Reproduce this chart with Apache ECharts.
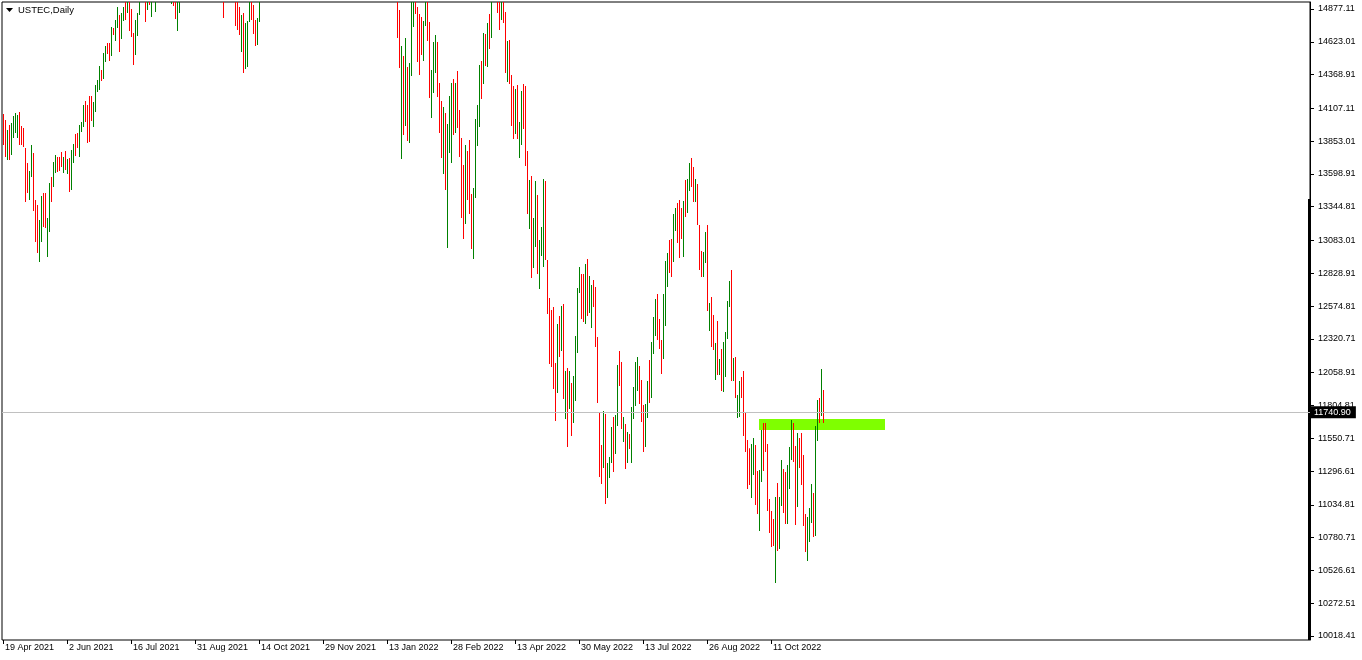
<!DOCTYPE html>
<html><head><meta charset="utf-8">
<script src="https://cdn.jsdelivr.net/npm/echarts@6/dist/echarts.min.js"></script>
<style>html,body{margin:0;padding:0;background:#fff;}#c{width:1362px;height:660px;}</style>
</head><body><div id="c"></div>
<script>
const symbolTitle = 'USTEC,Daily';
const xTickLabels = ['19 Apr 2021','2 Jun 2021','16 Jul 2021','31 Aug 2021','14 Oct 2021','29 Nov 2021','13 Jan 2022','28 Feb 2022','13 Apr 2022','30 May 2022','13 Jul 2022','26 Aug 2022','11 Oct 2022'];
const xTickBars = [0,32,64,96,128,160,192,224,256,288,320,352,384];
const yTickLabels = [14877.11,14623.01,14368.91,14107.11,13853.01,13598.91,13344.81,13083.01,12828.91,12574.81,12320.71,12058.91,11804.81,11550.71,11296.61,11034.81,10780.71,10526.61,10272.51,10018.41];
const highs = [
14038,13992,13915,13953,13969,14022,14046,14030,14053,13945,
13930,13776,13661,13599,13799,13738,13376,13337,13222,13406,
13430,13430,13237,13507,13553,13668,13722,13707,13707,13745,
13707,13753,13691,13699,13761,13807,13884,13892,13953,13976,
14107,14138,14107,14176,14176,14130,14261,14300,14407,14377,
14508,14561,14585,14585,14708,14700,14762,14862,14800,14816,
14862,14950,14960,14940,14846,14662,14762,14816,14960,15020,
15060,15010,14990,15000,15010,15060,15050,15080,15100,15120,
15150,15130,15160,15170,15050,15020,14990,14960,14990,15030,
15180,15280,15350,15380,15420,15480,15520,15550,15520,15560,
15600,15640,15700,15660,15620,15560,15520,15480,15440,15400,
15220,15150,15260,15280,15230,15120,15020,14990,14862,14800,
14816,14739,14754,14980,15000,14877,14762,14777,15000,15120,
15200,15300,15360,15400,15420,15360,15480,15520,15640,15700,
15800,15900,16000,16150,16200,16250,16280,16150,16100,16200,
16300,16350,16400,16550,16770,16700,16400,16450,16500,16350,
16450,16600,16350,16200,16000,16250,16400,16300,16350,16400,
16400,16100,16250,16150,15950,15900,16000,16150,16300,16350,
16450,16550,16450,16400,16500,16550,16300,16000,15900,15800,
15650,15750,15800,15550,15600,15450,15200,15250,14839,14561,
14484,14623,14400,14431,14950,15000,15020,14862,14808,14785,
14754,14960,14950,14746,14377,14592,14646,14592,14277,14138,
14092,14046,13961,14176,14277,14307,14277,14369,14069,13853,
13645,13799,13753,13838,13422,13468,13999,14107,14415,14446,
14662,14654,14739,14808,14950,15100,15250,15000,14980,14960,
14940,14823,14600,14608,14338,14253,14230,14261,13976,14215,
14269,14253,13753,13530,13560,13237,13522,13414,13068,13168,
13537,13522,12914,12621,12529,12552,12121,12421,12482,12559,
12575,12059,12082,12059,11967,12020,12328,12698,12860,12806,
12806,12883,12921,12790,12721,12760,12706,12321,11736,11489,
11751,11728,11351,11397,11628,11705,11720,12105,12213,12128,
11705,11651,11589,11574,11782,11936,12128,12167,12097,11990,
11797,11805,11982,12144,12282,12475,12613,12652,12459,12298,
12652,12906,12968,13068,13075,13268,13314,13353,13376,13314,
13368,13530,13537,13661,13699,13630,13537,13499,13183,12983,
12975,13129,13183,12583,12629,12490,12275,12444,12151,12228,
12282,12359,12598,12752,12837,12159,12167,11874,11982,12013,
12059,11736,11528,11465,11497,11543,11489,11289,11297,11605,
11659,11659,11497,11073,10981,10919,11089,11197,11089,11374,
11304,11281,11335,11474,11682,11659,11481,11582,11543,11582,
11412,10958,10935,11004,11189,11120,11635,11836,11851,12074,11913];
const lows = [
13799,13707,13684,13684,13722,13853,13892,13853,13799,13799,
13784,13360,13430,13376,13553,13291,13052,12968,12898,13052,
13168,13160,12937,13129,13360,13476,13584,13591,13599,13630,
13584,13607,13576,13437,13453,13661,13714,13776,13707,13899,
13938,13976,13815,13822,13984,13938,14053,14207,14223,14292,
14307,14438,14500,14446,14484,14646,14600,14700,14515,14615,
14754,14762,14816,14677,14631,14415,14492,14638,14800,14920,
14950,14746,14839,14877,14785,14930,14823,14960,14980,15000,
15010,15020,15040,15050,14885,14869,14769,14677,14816,14920,
15040,15120,15230,15300,15320,15360,15420,15440,15450,15460,
15480,15520,15580,15540,15500,15400,15380,15300,15220,15100,
14777,14950,15000,15080,15010,14930,14715,14685,14646,14515,
14354,14384,14400,14746,14762,14654,14561,14569,14746,14960,
15030,15150,15220,15280,15250,15200,15340,15420,15470,15560,
15650,15700,15830,15950,16050,16100,16050,15950,15950,16020,
16150,16200,16250,16350,16400,16250,16150,16200,16300,15900,
16050,15900,15700,15600,15450,15900,16200,15950,16050,16150,
15950,15750,15800,15850,15550,15650,15700,15950,16100,16200,
16250,16350,16250,16300,16200,16050,15750,15600,15550,15500,
15250,15500,15350,15250,15450,15050,14950,14623,14392,13691,
13876,13945,13830,13815,14330,14708,14808,14438,14338,14492,
14446,14715,14600,14161,14007,14200,14354,14169,13892,13699,
13576,13453,13006,13738,13661,13876,13892,13930,13707,13237,
13075,13191,13376,13268,12998,12921,13391,13791,13938,14153,
14269,14407,14400,14538,14623,14920,14950,14816,14685,14762,
14739,14354,14284,14269,13945,13845,13884,13845,13699,13799,
13922,13637,13268,13152,12775,12852,13014,12806,12690,12944,
12860,12914,12498,12113,12090,11920,11674,11890,12167,12213,
11843,11689,11474,11766,11558,11659,11828,12198,12660,12459,
12436,12421,12482,12506,12390,12552,12244,11813,11243,11189,
11312,11035,11081,11235,11351,11281,11420,11635,11943,11612,
11512,11304,11351,11458,11351,11689,11789,11905,11805,11666,
11435,11474,11697,11813,11851,12190,12328,12298,12228,12036,
12151,12405,12706,12814,12783,12898,13137,13045,12929,13075,
12937,13245,13276,13445,13476,13360,13360,13183,12837,12783,
12783,12891,12521,12367,12244,12221,11990,12028,12028,11905,
11897,12013,12305,12552,11982,11982,11851,11697,11705,11851,
11558,11435,11150,11181,11081,11258,11027,10958,10827,11204,
11289,11435,10981,10812,10704,10711,10427,10673,10688,11019,
10966,10881,10881,11150,11374,11358,10873,11012,11312,11181,
10865,10665,10596,10742,10889,10781,10788,11520,11659,11712,11659];
const directions = [
'RRGRGGGGRR','RRRGGRRRGG','RRGGRGGRRR','GRGRGGRRGG','GRRRRGGGGR',
'GGRRGRGGRG','GRGRRRGGGG','GRGRGGGGRG','GRGRGRRGGG','GGGGGGGGRG',
'GGGRRRGRRR','RGGRRRRRRG','RGGGRRRGGG','GGGGRRGGGG','GGGGGRRRGG',
'GGGGRRRGRR','GRRRRGGRGG','RRGRRRGGGG','GGRRGRRRRR','GGRGRRRRRG',
'RGRGGGRRRR','GGRRGGGRRR','GRGGGRGRRR','RGRRRGGGGR','GRGRGGRRRG',
'RRGRRRGRGG','RRRGRGGRGG','GRRRRRRGRG','RGRGRGGGGR','RGRGGRRRRR',
'GRGGGRGGRR','GRGRGGGGRR','RGGRGGGRRR','GGGRRGGRRR','GRGGRRGRRR',
'GGRGRRGRGR','GGGGRGRGGR','RRRRGGRRGG','RRRRRRGRGG','RRGGGRRGRR',
'RRGGGRGGRGR'].join('');
const lastPrice = 11740.90;
const zoneBars = [378, 441];
const zonePrices = [11605, 11689];
const totalSlots = 654;
const yRange = [9987.6, 14900.2];       // price scale used by the bars
const yLabelRange = [9987.4, 14931.4];  // scale of the terminal's evenly spaced price labels

const bars = highs.map((h, i) => [i, h, lows[i], directions[i] === 'G' ? 1 : 0]);
const chart = echarts.init(document.getElementById('c'), null, {renderer: 'canvas'});
const FONT = 'Liberation Sans';
chart.setOption({
  animation: false,
  backgroundColor: '#fff',
  title: {text: symbolTitle, left: 13, top: 0, textStyle: {fontFamily: FONT, fontSize: 9.5, fontWeight: 'normal', color: '#000'}},
  grid: {left: 2, top: 2, width: 1308, height: 638, show: true, borderColor: '#000', borderWidth: 1, backgroundColor: 'transparent'},
  xAxis: {
    type: 'value', min: -0.5, max: totalSlots - 0.5,
    splitLine: {show: false},
    axisLine: {show: false, onZero: false},
    axisTick: {show: true, customValues: xTickBars, length: 4, lineStyle: {color: '#000'}},
    axisLabel: {customValues: xTickBars, align: 'left', margin: 3, padding: [0,0,0,2],
      formatter: v => xTickLabels[xTickBars.indexOf(Math.round(v))] || '',
      fontFamily: FONT, fontSize: 9, color: '#000'}
  },
  yAxis: [{
    type: 'value', position: 'right', min: yRange[0], max: yRange[1], show: false,
    splitLine: {show: false}, axisLine: {show: false, onZero: false}, axisTick: {show: false}, axisLabel: {show: false}
  }, {
    type: 'value', position: 'right', min: yLabelRange[0], max: yLabelRange[1],
    splitLine: {show: false},
    axisLine: {show: true, onZero: false, lineStyle: {color: '#000'}},
    axisTick: {show: true, customValues: yTickLabels, length: 4, inside: false, lineStyle: {color: '#000'}},
    axisLabel: {customValues: yTickLabels, margin: 8, formatter: v => v.toFixed(2), fontFamily: FONT, fontSize: 9, color: '#000'}
  }],
  graphic: [
    {type: 'polygon', shape: {points: [[6, 8], [13, 8], [9.5, 12]]}, style: {fill: '#000'}},
    {type: 'rect', shape: {x: 1308, y: 199, width: 3, height: 441}, style: {fill: '#000'}}
  ],
  series: [{
    type: 'custom', clip: true, yAxisIndex: 0,
    data: bars,
    encode: {x: 0, y: [1, 2]},
    renderItem: (params, api) => {
      const x = api.value(0);
      const p1 = api.coord([x, api.value(1)]);
      const p2 = api.coord([x, api.value(2)]);
      return {type: 'rect', shape: {x: Math.floor(p1[0]), y: p1[1], width: 1, height: Math.max(1, p2[1] - p1[1])},
        style: {fill: api.value(3) ? '#008000' : '#FF0000'}};
    },
    markArea: {silent: true, itemStyle: {color: '#7FFF00', opacity: 1},
      data: [[{xAxis: zoneBars[0], yAxis: zonePrices[0]}, {xAxis: zoneBars[1], yAxis: zonePrices[1]}]]},
    markLine: {silent: true, symbol: 'none', animation: false,
      lineStyle: {color: '#C0C0C0', type: 'solid', width: 1},
      label: {position: 'end', distance: 1, formatter: () => lastPrice.toFixed(2), backgroundColor: '#000', color: '#fff',
        fontFamily: FONT, fontSize: 9, padding: [2, 5, 1, 3]},
      data: [{yAxis: lastPrice}]}
  }]
});
</script></body></html>
